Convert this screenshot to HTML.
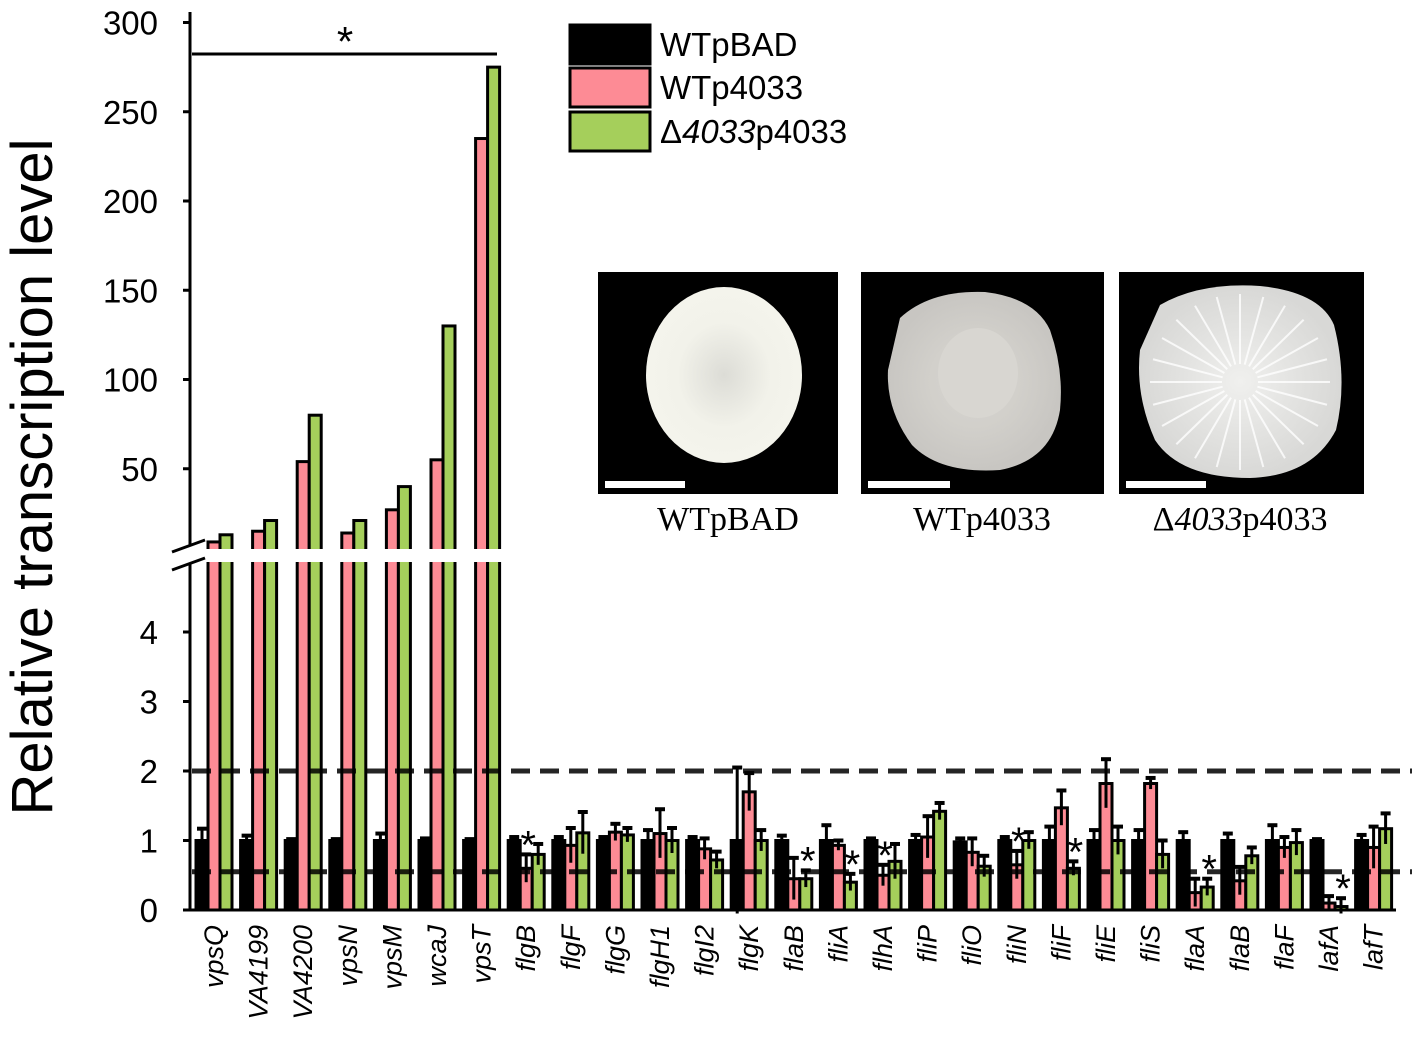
<!DOCTYPE html>
<html><head><meta charset="utf-8"><style>
body{margin:0;background:#fff;}
svg text{font-family:"Liberation Sans",sans-serif;}
</style></head><body>
<svg id="chart" width="1417" height="1046" viewBox="0 0 1417 1046" xmlns="http://www.w3.org/2000/svg">
<defs>
<radialGradient id="g1" cx="50%" cy="50%" r="50%"><stop offset="0" stop-color="#dcdcd6"/><stop offset="0.6" stop-color="#f2f2ea"/><stop offset="1" stop-color="#f4f4ec"/></radialGradient>
<radialGradient id="g2" cx="50%" cy="50%" r="50%"><stop offset="0" stop-color="#d6d4cf"/><stop offset="0.5" stop-color="#d2d0cb"/><stop offset="1" stop-color="#c8c6c2"/></radialGradient>
<radialGradient id="g3" cx="50%" cy="50%" r="50%"><stop offset="0" stop-color="#f0f0ee"/><stop offset="1" stop-color="#d8d8d6"/></radialGradient>
</defs>
<g id="plot"></g>
<g id="insets">
 <rect x="598" y="272" width="240" height="222" fill="#000"/>
 <ellipse cx="724" cy="375" rx="78" ry="88" fill="url(#g1)"/>
 <rect x="605" y="481" width="80" height="7" fill="#fff"/>
 <rect x="861" y="272" width="243" height="222" fill="#000"/>
 <path d="M900 318 Q930 290 985 292 Q1035 298 1050 330 Q1064 370 1060 410 Q1052 460 1000 470 Q940 474 912 445 Q886 410 888 370 Z" fill="url(#g2)"/>
 <ellipse cx="978" cy="373" rx="40" ry="45" fill="#d8d6d1"/>
 <rect x="868" y="481" width="82" height="7" fill="#fff"/>
 <rect x="1119" y="272" width="245" height="222" fill="#000"/>
 <path d="M1160 305 Q1200 282 1260 286 Q1320 292 1334 325 Q1348 380 1336 430 Q1312 476 1250 478 Q1180 478 1155 440 Q1135 395 1140 350 Z" fill="url(#g3)"/>
 <g stroke="#fff" stroke-width="2" opacity="0.8" id="rays"></g>
 <rect x="1126" y="481" width="80" height="7" fill="#fff"/>
 <text x="728" y="530" text-anchor="middle" font-size="34" style="font-family:'Liberation Serif',serif">WTpBAD</text>
 <text x="982" y="530" text-anchor="middle" font-size="34" style="font-family:'Liberation Serif',serif">WTp4033</text>
 <text x="1240" y="530" text-anchor="middle" font-size="34" style="font-family:'Liberation Serif',serif">Δ<tspan font-style="italic">4033</tspan>p4033</text>
</g>
<g>
 <rect x="570" y="25" width="80" height="39" fill="#000" stroke="#000" stroke-width="3"/>
 <text x="660" y="56" font-size="33">WTpBAD</text>
 <rect x="570" y="68" width="80" height="39" fill="#fd8b95" stroke="#000" stroke-width="3"/>
 <text x="660" y="99" font-size="33">WTp4033</text>
 <rect x="570" y="112" width="80" height="39" fill="#a5cf5b" stroke="#000" stroke-width="3"/>
 <text x="660" y="143" font-size="33">Δ<tspan font-style="italic">4033</tspan>p4033</text>
</g>
<text transform="translate(52,477) rotate(-90)" text-anchor="middle" font-size="58">Relative transcription level</text>
</svg>
<script>
const genes=["vpsQ","VA4199","VA4200","vpsN","vpsM","wcaJ","vpsT","flgB","flgF","flgG","flgH1","flgI2","flgK","flaB","fliA","flhA","fliP","fliO","fliN","fliF","fliE","fliS","flaA","flaB","flaF","lafA","lafT"];
const blackVals=[1,1,1,1,1,1,1,1,1,1,1,1,1,1,1,1,1,0.98,1,1,1,1,1,1,1,1,1];
const blackErr=[0.17,0.07,0.02,0.02,0.1,0.03,0.02,0.05,0.05,0.05,0.15,0.05,1.05,0.07,0.22,0.03,0.08,0.05,0.05,0.2,0.15,0.15,0.12,0.1,0.22,0.02,0.08];
const pinkVals=[9,15,54,14,27,55,235,0.6,0.93,1.12,1.1,0.88,1.7,0.45,0.93,0.5,1.05,0.83,0.65,1.47,1.82,1.82,0.25,0.42,0.9,0.1,0.9];
const pinkErr=[0,0,0,0,0,0,0,0.2,0.25,0.12,0.35,0.15,0.27,0.3,0.07,0.15,0.3,0.2,0.2,0.25,0.35,0.08,0.2,0.2,0.15,0.1,0.3];
const greenVals=[13,21,80,21,40,130,275,0.8,1.11,1.08,1.0,0.72,1.0,0.45,0.4,0.7,1.42,0.63,1.0,0.6,1.0,0.8,0.33,0.78,0.97,0.05,1.17];
const greenErr=[0,0,0,0,0,0,0,0.15,0.3,0.1,0.18,0.12,0.15,0.12,0.12,0.25,0.12,0.15,0.12,0.1,0.2,0.2,0.12,0.12,0.18,0.12,0.22];
const sig=[null,null,null,null,null,null,null,1,null,null,null,null,null,2,2,1,null,null,1,2,null,null,2,null,null,2,null];
const lowTicks=[0,1,2,3,4];
const highTicks=[50,100,150,200,250,300];

const NS="http://www.w3.org/2000/svg";
const g=document.getElementById('plot');
function yLow(v){return 910-69.5*v;}
function yHigh(v){return 558-1.785*v;}
function yVal(v){return v>4.6?yHigh(v):yLow(v);}
function xGroup(i){return 214+44.6*i;}
function mk(tag,attrs,parent){const e=document.createElementNS(NS,tag);for(const k in attrs)e.setAttribute(k,attrs[k]);(parent||g).appendChild(e);return e;}
const BW=12;
const cols=["#000","#fd8b95","#a5cf5b"];
const sets=[[blackVals,blackErr],[pinkVals,pinkErr],[greenVals,greenErr]];
const names=["wtpbad","wtp4033","delta4033p4033"];
genes.forEach((gn,i)=>{
  const cx=xGroup(i);
  sets.forEach((s,j)=>{
    const v=s[0][i],e=s[1][i];
    const x=cx-1.5*BW+j*BW;
    const y=yVal(v);
    const r=mk('rect',{x:x,y:y,width:BW,height:910-y,fill:cols[j],stroke:'#000','stroke-width':3});
    
    
    if(e>0){
      const xm=x+BW/2;
      const ln=mk('line',{x1:xm,x2:xm,y1:yLow(v+e),y2:yLow(Math.max(v-e,-0.05)),stroke:'#000','stroke-width':3});
      
      
      mk('line',{x1:xm-5,x2:xm+5,y1:yLow(v+e),y2:yLow(v+e),stroke:'#000','stroke-width':4});
    }
  });
  if(sig[i]){
    const j=sig[i];
    const s=sets[j];
    const sx=cx-1.5*BW+j*BW+BW/2+2;
    const st=mk('text',{x:sx,y:yLow(s[0][i]+s[1][i])+4,'text-anchor':'middle','font-size':40});
    st.textContent='*';
    
    
  }
  const t=mk('text',{transform:`translate(${cx+9},925) rotate(-90)`,'text-anchor':'end','font-size':27,'font-style':'italic'});
  t.textContent=gn;
  
  
});
mk('rect',{x:192,y:549,width:330,height:13,fill:'#fff'});
[2,0.55].forEach(v=>{
  const d=mk('line',{x1:192,x2:1412,y1:yLow(v),y2:yLow(v),stroke:'#000','stroke-width':5,'stroke-dasharray':'19 10',opacity:0.85});
  
  
});
const ya1=mk('line',{x1:190,x2:190,y1:12,y2:546,stroke:'#000','stroke-width':3});


const ya2=mk('line',{x1:190,x2:190,y1:564,y2:911,stroke:'#000','stroke-width':3});


mk('line',{x1:172,x2:205,y1:552,y2:540,stroke:'#000','stroke-width':3});
mk('line',{x1:172,x2:205,y1:570,y2:558,stroke:'#000','stroke-width':3});
const xa=mk('line',{x1:189,x2:1396,y1:910,y2:910,stroke:'#000','stroke-width':3});


lowTicks.forEach(v=>{
  mk('line',{x1:183,x2:190,y1:yLow(v),y2:yLow(v),stroke:'#000','stroke-width':3});
  const t=mk('text',{x:158,y:yLow(v)+12,'text-anchor':'end','font-size':33});
  t.textContent=v;
  
  
});
highTicks.forEach(v=>{
  mk('line',{x1:183,x2:190,y1:yHigh(v),y2:yHigh(v),stroke:'#000','stroke-width':3});
  const t=mk('text',{x:158,y:yHigh(v)+12,'text-anchor':'end','font-size':33});
  t.textContent=v;
  
  
});
const br=mk('line',{x1:192,x2:497,y1:54,y2:54,stroke:'#000','stroke-width':3});


const bs=mk('text',{x:345,y:56,'text-anchor':'middle','font-size':42});
bs.textContent='*';


const rays=document.getElementById('rays');
for(let k=0;k<24;k++){const a=k*Math.PI/12;mk('line',{x1:1240+Math.cos(a)*18,y1:382+Math.sin(a)*18,x2:1240+Math.cos(a)*90,y2:382+Math.sin(a)*88},rays);}
</script>
</body></html>
